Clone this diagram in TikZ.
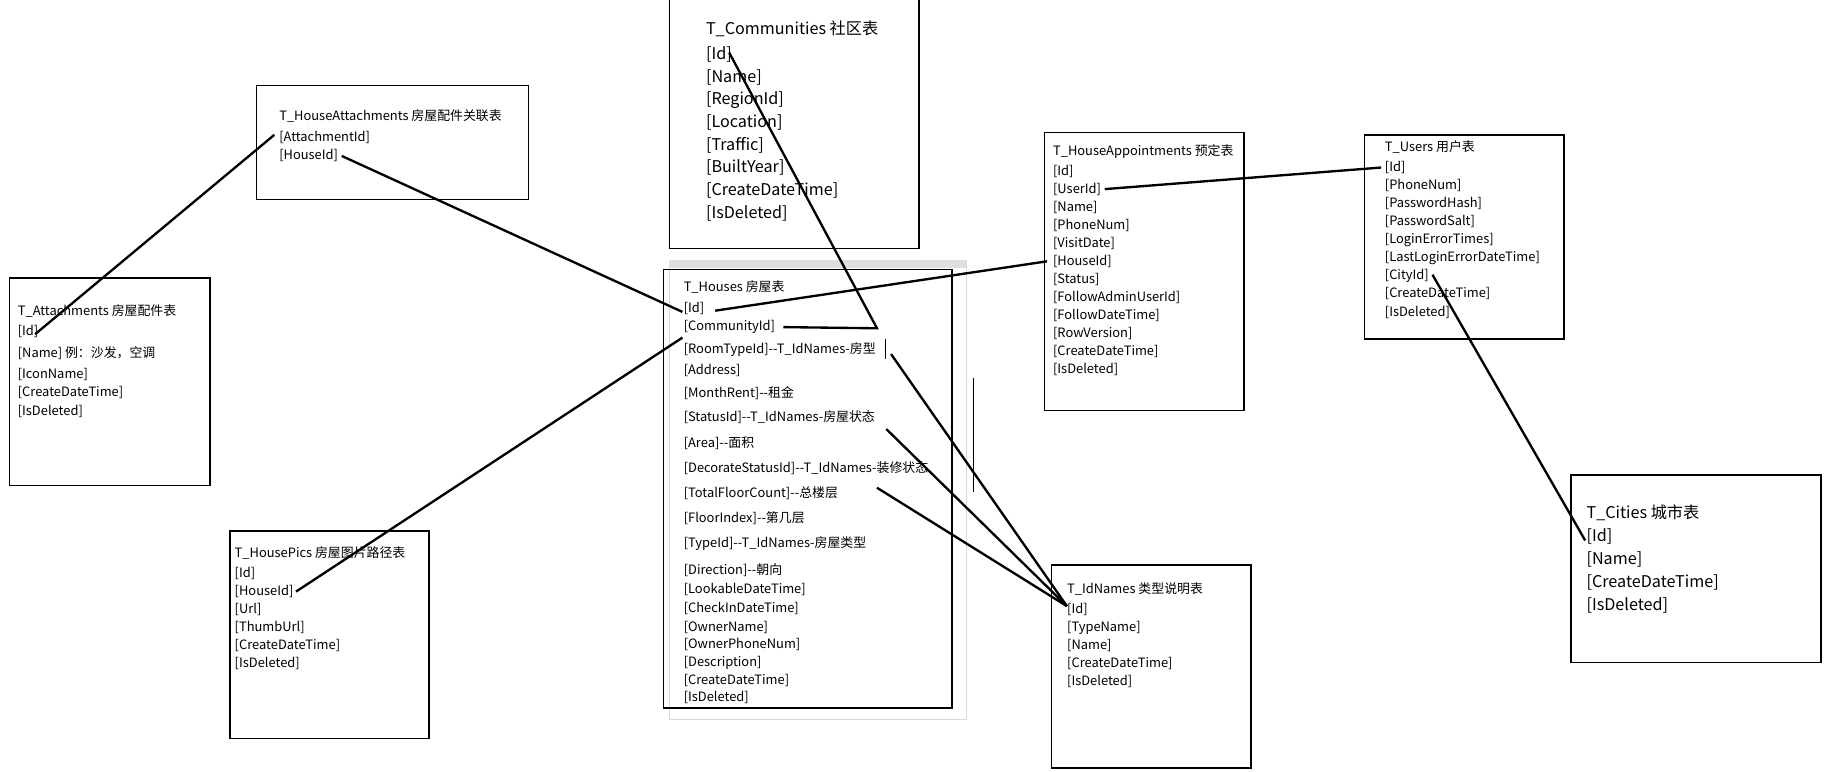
\documentclass[tikz,border=0pt]{standalone}
\usepackage{fontspec}
\setmainfont{Noto Sans CJK SC}
\begin{document}
\begin{tikzpicture}[x=1pt,y=-1pt,
  t/.style={anchor=west,inner sep=0pt,font=\fontsize{11}{12}\selectfont},
  tb/.style={anchor=west,inner sep=0pt,font=\fontsize{13.8}{15}\selectfont},
  box/.style={draw,line width=1.2pt},
  rel/.style={line width=2pt}]
\useasboundingbox (0,0) rectangle (1560,658);
% Communities
\draw[box] (571,-5) rectangle (784,212);
\node[tb] (c0) at (602,25) {T\_Communities 社区表};
\foreach \s [count=\i] in {[Id],[Name],[RegionId],[Location],[Traffic],[BuiltYear],[CreateDateTime],[IsDeleted]}
  \node[tb] (c\i) at (602,27+\i*19.35) {\s};
% HouseAttachments
\draw[box] (219,73) rectangle (451,170);
\node[t] (ha0) at (238,99) {T\_HouseAttachments 房屋配件关联表};
\node[t] (ha1) at (238,117) {[AttachmentId]};
\node[t] (ha2) at (238,133) {[HouseId]};
% Attachments
\draw[box] (8,237) rectangle (179,414);
\node[t] (a0) at (15,265) {T\_Attachments 房屋配件表};
\node[t] (a1) at (15,283) {[Id]};
\node[t] (a2) at (15,301) {[Name] 例：沙发，空调};
\node[t] (a3) at (15,319) {[IconName]};
\node[t] (a4) at (15,335) {[CreateDateTime]};
\node[t] (a5) at (15,351) {[IsDeleted]};
% HousePics
\draw[box] (196,453) rectangle (366,630);
\node[t] (p0) at (200,472) {T\_HousePics 房屋图片路径表};
\foreach \s [count=\i] in {[Id],[HouseId],[Url],[ThumbUrl],[CreateDateTime],[IsDeleted]}
  \node[t] (p\i) at (200,474+\i*15.3) {\s};
% Houses
\draw[gray!30,line width=0.8pt] (571,222) rectangle (824,614);
\fill[gray!25] (571,222) rectangle (824,229);
\draw[box] (566,230) rectangle (812,604);
\node[t] (h0) at (583,245) {T\_Houses 房屋表};
\foreach \s/\y [count=\i] in {[Id]/263,[CommunityId]/279,[RoomTypeId]-{}-T\_IdNames-房型/298,[Address]/316,[MonthRent]-{}-租金/335,[StatusId]-{}-T\_IdNames-房屋状态/356,[Area]-{}-面积/378,[DecorateStatusId]-{}-T\_IdNames-装修状态/399,[TotalFloorCount]-{}-总楼层/421,[FloorIndex]-{}-第几层/442,[TypeId]-{}-T\_IdNames-房屋类型/464,[Direction]-{}-朝向/486,[LookableDateTime]/503,[CheckInDateTime]/519,[OwnerName]/535,[OwnerPhoneNum]/550,[Description]/565,[CreateDateTime]/580,[IsDeleted]/595}
  \node[t] (h\i) at (583,\y) {\s};
\draw[line width=0.8pt] (755,289) -- (755,306);
\draw[line width=0.8pt] (830,322) -- (830,420);
% HouseAppointments
\draw[box] (891,113) rectangle (1061,350);
\node[t] (ap0) at (898,129) {T\_HouseAppointments 预定表};
\foreach \s [count=\i] in {[Id],[UserId],[Name],[PhoneNum],[VisitDate],[HouseId],[Status],[FollowAdminUserId],[FollowDateTime],[RowVersion],[CreateDateTime],[IsDeleted]}
  \node[t] (ap\i) at (898,130.5+\i*15.4) {\s};
% Users
\draw[box] (1164,115) rectangle (1334,289);
\node[t] (u0) at (1181,125) {T\_Users 用户表};
\foreach \s [count=\i] in {[Id],[PhoneNum],[PasswordHash],[PasswordSalt],[LoginErrorTimes],[LastLoginErrorDateTime],[CityId],[CreateDateTime],[IsDeleted]}
  \node[t] (u\i) at (1181,127.5+\i*15.4) {\s};
% IdNames
\draw[box] (897,482) rectangle (1067,655);
\node[t] (n0) at (910,502) {T\_IdNames 类型说明表};
\foreach \s [count=\i] in {[Id],[TypeName],[Name],[CreateDateTime],[IsDeleted]}
  \node[t] (n\i) at (910,505+\i*15.2) {\s};
% Cities
\draw[box] (1340,405) rectangle (1553,565);
\node[tb] (ci0) at (1353,437) {T\_Cities 城市表};
\foreach \s [count=\i] in {[Id],[Name],[CreateDateTime],[IsDeleted]}
  \node[tb] (ci\i) at (1353,438.5+\i*19.4) {\s};
% relation anchors
\coordinate (k1) at (748,280);
\coordinate (nid) at (910,517);
\coordinate (s3) at (760,302);
\coordinate (s6) at (756,366);
\coordinate (s8) at (748,416);
\coordinate (cid) at (622,45);
\coordinate (hid) at (610,265);
\draw[rel] (30,285) -- (234,115);
\draw[rel] ([xshift=3pt]ha2.east) -- ([xshift=-1pt,yshift=-3pt]h1.west);
\draw[rel] ([xshift=2pt]p2.east) -- ([xshift=-1pt,yshift=-9pt]h2.west);
\draw[rel] (cid) -- (k1) -- ([xshift=7pt]h2.east);
\draw[rel] (hid) -- ([xshift=-5pt]ap6.west);
\draw[rel] ([xshift=3pt]ap2.east) -- ([xshift=-3pt]u1.west);
\draw[rel] ([xshift=3pt,yshift=1pt]u7.east) -- ([xshift=-1pt,yshift=-3pt]ci1.west);
\draw[rel] (s3) -- (nid);
\draw[rel] (s6) -- (nid);
\draw[rel] (s8) -- (nid);
\end{tikzpicture}
\end{document}
